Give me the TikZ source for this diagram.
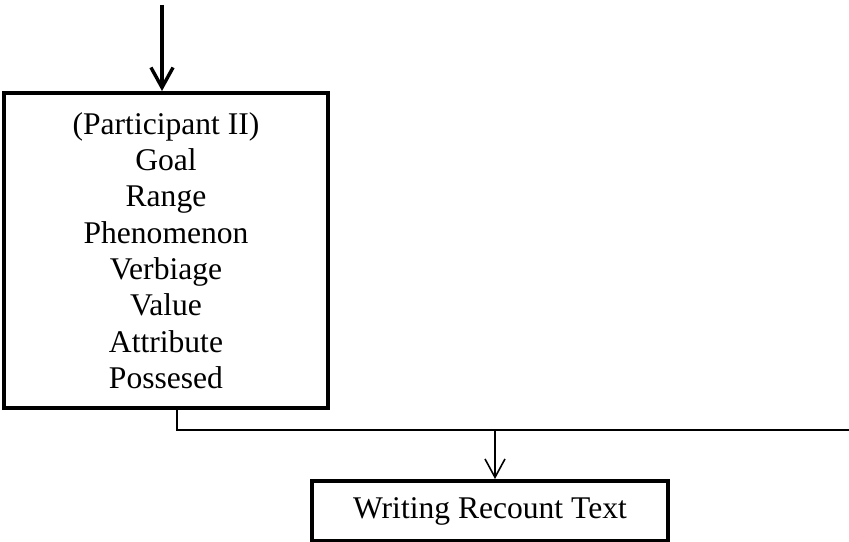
\documentclass[tikz,border=0pt]{standalone}
\usepackage{fontspec}
\setmainfont{Liberation Serif}
\usetikzlibrary{arrows.meta}

\begin{document}
\begin{tikzpicture}[x=0.38pt, y=0.38pt,
    box/.style={draw, line width=1.5pt, align=center, inner sep=0pt,
        font=\fontsize{12}{13.8}\selectfont},
    bigarrow/.style={line width=1.3pt, -{Straight Barb[length=7.6pt, width=8.4pt, line width=1.3pt]}},
    smallarrow/.style={line width=0.6pt, -{Straight Barb[length=7pt, width=7.6pt, line width=0.6pt]}}]
			\useasboundingbox (0,0) rectangle (849,542);
			\node[box, minimum width=324*0.38pt, minimum height=315*0.38pt] (roles) at (166,291.5)
				{(Participant II)\\ Goal\\ Range\\ Phenomenon\\ Verbiage\\ Value\\ Attribute\\ Possesed};
			\node[box, minimum width=356*0.38pt, minimum height=60*0.38pt] (recount) at (490,31)
				{Writing Recount Text};
			\coordinate (start) at (162,537);
			\coordinate (corner) at (177,112);
			\coordinate (lineend) at (849,112);
			\coordinate (split) at (495,112);
			\draw[bigarrow] (start) -- (start |- roles.north);
			\draw[line width=1pt] (corner |- roles.south) -- (corner) -- (lineend);
			\draw[smallarrow] (split) -- (split |- recount.north);
		\end{tikzpicture}
\end{document}
